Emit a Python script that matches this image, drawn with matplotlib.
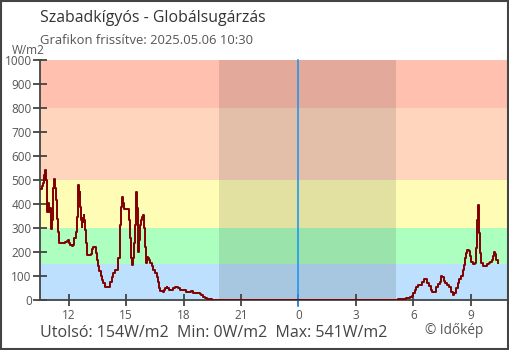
import matplotlib.pyplot as plt
import numpy as np

plt.rcParams['font.family'] = ['Open Sans', 'DejaVu Sans']

# hours since midnight of 2025.05.05 (values > 24 are the next day)
hours = [10.53, 10.59, 10.64, 10.71, 10.74, 10.78, 10.81, 10.85, 10.88, 10.94,
         10.97, 11.02, 11.06, 11.09, 11.11, 11.16, 11.20, 11.25, 11.28, 11.34,
         11.37, 11.42, 11.46, 11.51, 11.63, 11.72, 11.80, 11.89, 11.94, 12.01,
         12.07, 12.15, 12.24, 12.29, 12.36, 12.41, 12.47, 12.50, 12.54, 12.57,
         12.60, 12.64, 12.67, 12.71, 12.74, 12.78, 12.81, 12.85, 12.90, 12.95,
         13.11, 13.16, 13.21, 13.28, 13.40, 13.44, 13.49, 13.54, 13.60, 13.67,
         13.72, 13.80, 13.89, 13.98, 14.10, 14.15, 14.24, 14.33, 14.41, 14.50,
         14.55, 14.60, 14.67, 14.73, 14.78, 14.83, 14.88, 15.02, 15.11, 15.14,
         15.20, 15.25, 15.30, 15.34, 15.39, 15.44, 15.49, 15.53, 15.56, 15.60,
         15.63, 15.67, 15.70, 15.74, 15.79, 15.84, 15.89, 15.94, 16.00, 16.03,
         16.07, 16.12, 16.17, 16.24, 16.33, 16.41, 16.50, 16.59, 16.64, 16.73,
         16.76, 16.85, 16.94, 16.99, 17.04, 17.11, 17.16, 17.25, 17.37, 17.46,
         17.54, 17.63, 17.72, 17.80, 17.89, 17.98, 18.15, 18.24, 18.33, 18.41,
         18.50, 18.76, 18.85, 18.93, 19.02, 19.11, 19.20, 19.37, 19.46,
         29.11, 29.20, 29.54, 29.63, 29.81, 29.93, 29.98, 30.07, 30.15, 30.24,
         30.36, 30.45, 30.54, 30.62, 30.71, 30.81, 30.90, 30.99, 31.11, 31.20,
         31.28, 31.37, 31.46, 31.51, 31.58, 31.67, 31.77, 31.89, 31.98, 32.07,
         32.15, 32.24, 32.33, 32.41, 32.50, 32.59, 32.64, 32.71, 32.76, 32.81,
         32.90, 32.97, 33.04, 33.11, 33.20, 33.27, 33.30, 33.34, 33.37, 33.41,
         33.44, 33.48, 33.54, 33.63, 33.77, 33.84, 33.93, 34.03, 34.12, 34.19,
         34.24, 34.29, 34.33, 34.38, 34.42]
values = [461, 475, 486, 521, 508, 541, 500, 444, 368, 404,
          368, 383, 333, 296, 333, 333, 466, 504, 466, 417,
          337, 330, 285, 236, 237, 237, 243, 247, 250, 236,
          229, 225, 229, 257, 285, 347, 431, 479, 431, 451,
          389, 333, 305, 340, 326, 354, 333, 292, 236, 186,
          186, 192, 211, 219, 219, 196, 167, 142, 122, 100,
          83, 69, 56, 56, 56, 76, 97, 114, 125, 125,
          139, 174, 312, 389, 431, 403, 378, 378, 378, 333,
          257, 174, 146, 174, 236, 312, 403, 451, 383, 285,
          201, 250, 250, 312, 333, 347, 354, 299, 222, 153,
          181, 174, 167, 156, 142, 125, 111, 97, 76, 49,
          39, 39, 35, 42, 51, 56, 49, 42, 42, 49,
          56, 56, 49, 42, 42, 41, 35, 35, 35, 39,
          31, 31, 25, 19, 14, 10, 4, 3, 0,
          0, 3, 3, 7, 11, 17, 28, 42, 53, 64,
          64, 76, 86, 86, 72, 58, 42, 33, 32, 56,
          65, 76, 100, 94, 81, 72, 64, 53, 35, 21,
          28, 49, 69, 86, 100, 125, 146, 174, 194, 208,
          206, 183, 160, 150, 153, 167, 215, 333, 396, 354,
          278, 194, 156, 142, 142, 150, 156, 160, 167, 183,
          201, 192, 167, 167, 154]

band_edges = [0, 150, 300, 500, 800, 1000]
band_colors = ['#bce0fd', '#adffbf', '#fffdb5', '#ffd6bd', '#ffc0b0']
night_start, night_end = 19.87, 29.12
tick_hours = [12, 15, 18, 21, 24, 27, 30, 33]
tick_labels = ['12', '15', '18', '21', '0', '3', '6', '9']

fig = plt.figure(figsize=(5.1, 3.5), dpi=100)
ax = fig.add_axes([40 / 510, 50 / 350, 469 / 510, 240 / 350])

for i in range(len(band_colors)):
    ax.axhspan(band_edges[i], band_edges[i + 1], color=band_colors[i], lw=0, zorder=0)
ax.axvspan(night_start, night_end, color='black', alpha=0.11, lw=0, zorder=1)
ax.axvline(24, ymin=-0.025, ymax=1, color='#2196f3', lw=1.2, zorder=2, clip_on=False)

ax.plot(hours, values, color='#800000', lw=1.4, drawstyle='steps-post', zorder=3)

ax.set_xlim(10.5, 35)
ax.set_ylim(0, 1000)
ax.set_yticks(range(0, 1001, 100))
ax.set_xticks(tick_hours)
ax.set_xticklabels(tick_labels)

for s in ['top', 'right']:
    ax.spines[s].set_visible(False)
for s in ['left', 'bottom']:
    ax.spines[s].set_color('#444444')
    ax.spines[s].set_linewidth(1.3)
ax.tick_params(axis='y', direction='inout', length=10, width=1.3, color='#444444',
               labelcolor='#555555', labelsize=8.5, pad=1)
ax.tick_params(axis='x', direction='inout', length=9, width=1.3, color='#444444',
               labelcolor='#555555', labelsize=8.5, pad=2)

fig.text(40 / 510, 1 - 18 / 350, 'Szabadkígyós - Globálsugárzás', fontsize=11.4,
         color='#333333', va='center', ha='left')
fig.text(40 / 510, 1 - 41 / 350, 'Grafikon frissítve: 2025.05.06 10:30', fontsize=9.4,
         color='#555555', va='center', ha='left')
fig.text(12 / 510, 1 - 50 / 350, 'W/m2', fontsize=8.5, color='#555555',
         va='center', ha='left')
fig.text(40 / 510, 1 - 333 / 350, 'Utolsó: 154W/m2  Min: 0W/m2  Max: 541W/m2',
         fontsize=11.5, color='#444444', va='center', ha='left')
fig.text(425 / 510, 1 - 331 / 350, '© Időkép', fontsize=9.8, color='#555555',
         va='center', ha='left')

fig.patches.append(plt.Rectangle((0.001, 0.002), 0.996, 0.996, transform=fig.transFigure,
                                 fill=False, edgecolor='#444444', lw=1.5))

fig.savefig('out.png', dpi=100)
